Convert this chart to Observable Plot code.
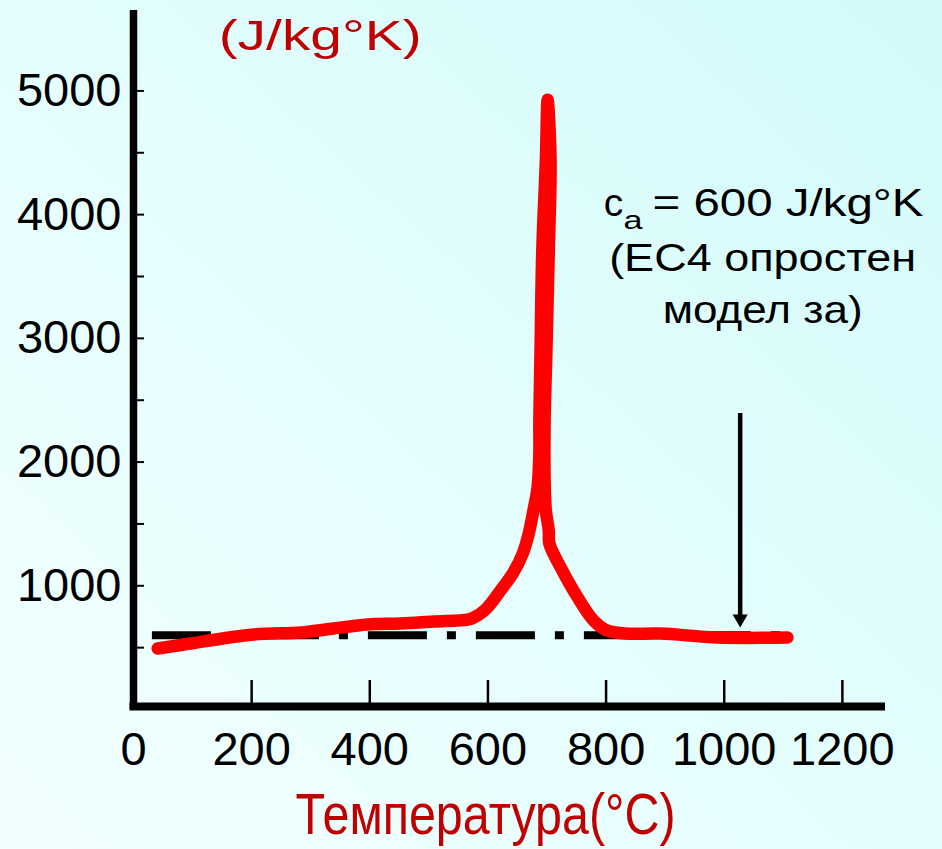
<!DOCTYPE html>
<html>
<head>
<meta charset="utf-8">
<script src="https://cdn.jsdelivr.net/npm/d3@7"></script>
<script src="https://cdn.jsdelivr.net/npm/@observablehq/plot@0.6"></script>
<style>
  html, body { margin: 0; padding: 0; }
  body {
    width: 942px; height: 849px; overflow: hidden;
    background: linear-gradient(to top right, #f2ffff 0%, #e6fefe 45%, #d2fafa 100%);
  }
  #chart svg { display: block; }
</style>
</head>
<body>
<div id="chart"></div>
<script>
// ---- data ----
const temperature = [41, 85, 203, 283, 339, 396, 452, 508, 566, 576, 596, 625, 642, 659, 669, 677, 684, 687, 687, 689, 692, 698, 701,
                     706, 703, 699, 696, 696, 698, 703, 704, 726, 752, 779, 802, 833, 892, 989, 1107];
const specificHeat = [493, 525, 606, 622, 655, 687, 695, 711, 727, 743, 808, 986, 1099, 1261, 1422, 1608, 1794, 2069, 2335, 2901, 3709, 4436, 4929,
                      4436, 3709, 2901, 2335, 1850, 1608, 1446, 1341, 1123, 905, 719, 638, 614, 614, 582, 582];

const xTickLabels = [0, 200, 400, 600, 800, 1000, 1200];
const xTickMarks = [200, 400, 600, 800, 1000, 1200];
const yTickLabels = [1000, 2000, 3000, 4000, 5000];
const yTickMarks = [500, 1000, 1500, 2000, 2500, 3000, 3500, 4000, 4500, 5000];

const xDomain = [0, 1273];
const yDomain = [0, 5650];

// simplified EC4 constant value
const caValue = [600];
const caStart = [32];
const caEnd = [1099];

// arrow pointing at the constant line
const arrowX = [1027];
const arrowTop = [2392];
const arrowHead = [733];

// texts
const unitText = ["(J/kg°K)"];
const unitX = [316];
const unitY = [5333];
const axisTitle = ["Температура(°C)"];
const axisTitleX = [596];
const axisTitleY = [-1010];
const noteLines = ["(EC4 опростен", "модел за)"];
const noteX = [1065, 1065];
const noteY = [3547, 3127];
const noteFirstParts = ["c", "a", "= 600 J/kg°K"];
const noteFirstX = [796, 829.5, 878.6];
const noteFirstY = [3992, 3887, 3992];
const noteFirstSize = [39, 25, 39];

// ---- rendering ----
const font = "'Liberation Sans', Arial, Helvetica, sans-serif";
const curve = temperature.map((t, i) => ({t, c: specificHeat[i]}));
const firstLine = noteFirstParts.map((s, i) => ({s, x: noteFirstX[i], y: noteFirstY[i], size: noteFirstSize[i]}));

const plot = Plot.plot({
  width: 942,
  height: 849,
  marginLeft: 133,
  marginRight: 57,
  marginTop: 10,
  marginBottom: 140,
  style: {background: "transparent", fontFamily: font, overflow: "visible"},
  x: {domain: xDomain},
  y: {domain: yDomain},
  marks: [
    // y tick labels
    Plot.axisY(yTickLabels, {tickSize: 0, tickPadding: 12, fontSize: 47, tickFormat: "d", label: null, fill: "black"}),
    // y tick marks (inside)
    Plot.axisY(yTickMarks, {tickSize: 7, dx: 11, text: null, strokeWidth: 2, label: null, stroke: "black"}),
    // x tick labels
    Plot.axisX(xTickLabels, {tickSize: 0, tickPadding: 22, fontSize: 47, tickFormat: "d", label: null, fill: "black"}),
    // x tick marks (above the axis)
    Plot.axisX(xTickMarks, {tickSize: 23, dy: -29, text: null, strokeWidth: 2.5, label: null, stroke: "black"}),
    // axis lines
    Plot.ruleX([0], {y1: yDomain[0], y2: yDomain[1], stroke: "black", strokeWidth: 7.5}),
    Plot.ruleY([0], {x1: -6, x2: xDomain[1], dy: -3, stroke: "black", strokeWidth: 8}),
    // dash-dot constant line
    Plot.ruleY(caValue, {x1: caStart, x2: caEnd, stroke: "black", strokeWidth: 8, strokeDasharray: "59,20,9,20"}),
    // arrow
    Plot.ruleX(arrowX, {y1: arrowTop, y2: arrowHead, stroke: "black", strokeWidth: 4.5}),
    Plot.dot(arrowX, {x: d => d, y: arrowHead, symbol: "triangle", r: 5.6, fill: "black", rotate: 180}),
    // measured curve
    Plot.line(curve, {x: "t", y: "c", curve: "catmull-rom", stroke: "#ff0000", strokeWidth: 12.5, strokeLinejoin: "round", strokeLinecap: "round"}),
    // unit label
    Plot.text(unitText, {x: unitX, y: unitY, text: d => d, fontSize: 43, fill: "#c00000", textAnchor: "middle", lineAnchor: "bottom"}),
    // axis title
    Plot.text(axisTitle, {x: axisTitleX, y: axisTitleY, text: d => d, fontSize: 58, fill: "#c00000", textAnchor: "middle", lineAnchor: "bottom"}),
    // annotation
    Plot.text(firstLine, {x: "x", y: "y", text: "s", fontSize: d => d.size, fill: "black", textAnchor: "start", lineAnchor: "bottom"}),
    Plot.text(noteLines, {x: noteX, y: noteY, text: d => d, fontSize: 39, fill: "black", textAnchor: "middle", lineAnchor: "bottom"})
  ]
});

// horizontal stretch of the slide texts, as in the reference
const textLengths = new Map([
  ["(J/kg°K)", 203],
  ["Температура(°C)", 380],
  ["= 600 J/kg°K", 271],
  ["(EC4 опростен", 307],
  ["модел за)", 200],
  ["a", 19]
]);
d3.select(plot).selectAll("text").each(function () {
  const t = this.textContent;
  if (textLengths.has(t)) {
    this.setAttribute("textLength", textLengths.get(t));
    this.setAttribute("lengthAdjust", "spacingAndGlyphs");
  }
});

document.getElementById("chart").appendChild(plot);
</script>
</body>
</html>
